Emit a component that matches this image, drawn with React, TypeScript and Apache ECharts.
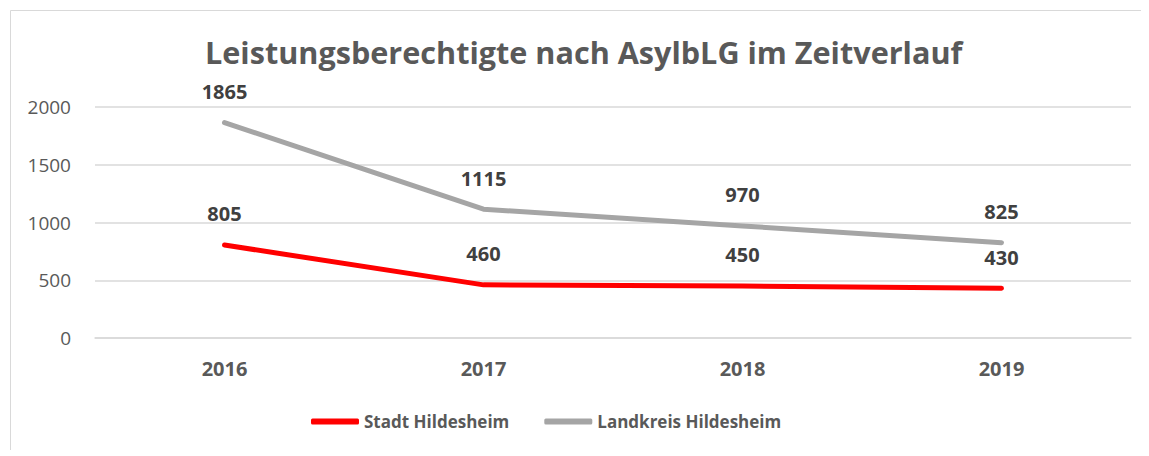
import React, { useEffect, useRef } from "react";
import * as echarts from "echarts";

const years = ["2016", "2017", "2018", "2019"];
const stadt = [805, 460, 450, 430];
const landkreis = [1865, 1115, 970, 825];
const titleText = "Leistungsberechtigte nach AsylbLG im Zeitverlauf";

const FONT = "'Open Sans', 'Noto Sans', sans-serif";

export default function App() {
  const ref = useRef<HTMLDivElement>(null);
  useEffect(() => {
    if (!ref.current) return;
    const chart = echarts.init(ref.current, null, { renderer: "svg" });
    const labelStyle = {
      show: true,
      position: "top" as const,
      distance: 21,
      fontFamily: FONT,
      fontWeight: "bold" as const,
      fontSize: 20,
      color: "#404040",
    };
    chart.setOption({
      animation: false,
      backgroundColor: "#ffffff",
      graphic: [
        {
          type: "rect",
          left: 0,
          top: 0,
          shape: { x: 0, y: 0, width: 1132, height: 441 },
          style: { fill: "none", stroke: "#d9d9d9", lineWidth: 1 },
          silent: true,
        },
      ],
      title: {
        text: titleText,
        left: 197,
        top: 28,
        padding: 0,
        textStyle: { fontFamily: FONT, fontSize: 30.6, fontWeight: "bold", color: "#595959" },
      },
      legend: {
        bottom: 15,
        left: 298,
        itemWidth: 48,
        itemHeight: 6,
        itemGap: 35,
        icon: "roundRect",
        textStyle: { fontFamily: FONT, fontSize: 17, fontWeight: "bold", color: "#595959" },
        data: ["Stadt Hildesheim", "Landkreis Hildesheim"],
      },
      grid: { left: 87, right: 10, top: 99, bottom: 112 },
      xAxis: {
        type: "category",
        data: years,
        boundaryGap: true,
        axisLine: { lineStyle: { color: "#d9d9d9", width: 1.5 } },
        axisTick: { show: false },
        axisLabel: {
          fontFamily: FONT,
          fontSize: 20,
          fontWeight: "bold",
          color: "#595959",
          margin: 20,
        },
      },
      yAxis: {
        type: "value",
        min: 0,
        max: 2000,
        interval: 500,
        axisLine: { show: false },
        axisTick: { show: false },
        splitLine: { lineStyle: { color: "#d9d9d9", width: 1.5 } },
        axisLabel: {
          fontFamily: FONT,
          fontSize: 19,
          color: "#595959",
          margin: 24,
          formatter: (v: number) => String(v),
        },
      },
      series: [
        {
          name: "Stadt Hildesheim",
          type: "line",
          data: stadt,
          color: "#ff0000",
          symbol: "circle",
          symbolSize: 0.1,
          lineStyle: { width: 5, color: "#ff0000", cap: "round" },
          itemStyle: { color: "#ff0000" },
          label: labelStyle,
        },
        {
          name: "Landkreis Hildesheim",
          type: "line",
          data: landkreis,
          color: "#a5a5a5",
          symbol: "circle",
          symbolSize: 0.1,
          lineStyle: { width: 5, color: "#a5a5a5", cap: "round" },
          itemStyle: { color: "#a5a5a5" },
          label: labelStyle,
        },
      ],
    });
    return () => chart.dispose();
  }, []);
  return <div ref={ref} style={{ width: 1133, height: 442 }} />;
}
